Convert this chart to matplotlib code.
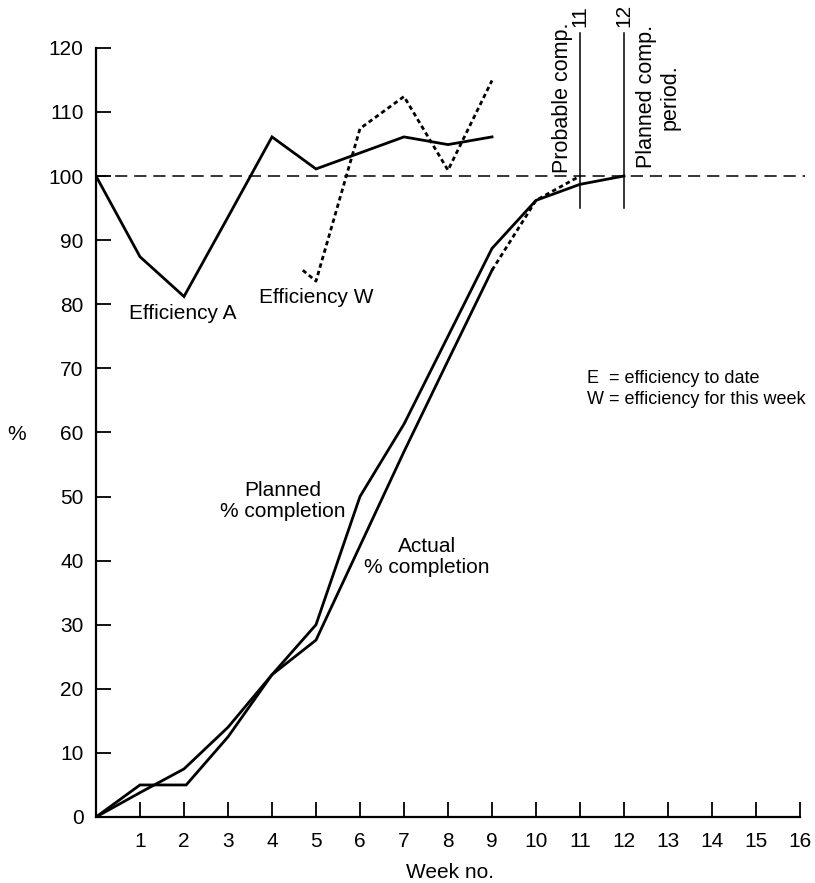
import matplotlib
matplotlib.use("Agg")
import matplotlib.pyplot as plt

plt.rcParams['font.family'] = ['Liberation Sans', 'DejaVu Sans']
plt.rcParams['font.size'] = 15

# Data
weeks_plan = [0, 1, 2, 3, 4, 5, 6, 7, 8, 9, 10, 11, 12]
planned = [0, 3.8, 7.5, 14, 22.2, 30, 50, 61.3, 75, 88.7, 96.2, 98.7, 100]

weeks_act = [0, 1, 2.05, 3, 4, 5, 6, 7, 8, 9]
actual = [0, 5, 5, 12.5, 22.2, 27.6, 42.3, 57, 71.2, 85.3]

weeks_fore = [9, 10, 11]
forecast = [85.3, 96.2, 100]

weeks_effA = [0, 1, 2, 3, 4, 5, 6, 7, 8, 9]
eff_A = [100, 87.4, 81.2, 93.6, 106.1, 101.1, 103.6, 106.1, 104.9, 106.1]

weeks_effW = [4.7, 5, 6, 7, 8, 9]
eff_W = [85.3, 83.6, 107.4, 112.4, 100.9, 114.9]

yticks = [0, 10, 20, 30, 40, 50, 60, 70, 80, 90, 100, 110, 120]
xticks = list(range(1, 17))

W, H = 815, 883
fig = plt.figure(figsize=(W / 100, H / 100), dpi=100)
ax = fig.add_axes([96 / W, 66 / H, (805 - 96) / W, (883 - 66) / H])
ax.set_xlim(0, (805 - 96) / 44)
ax.set_ylim(0, 817 / 6.41)

for s in ['top', 'right']:
    ax.spines[s].set_visible(False)
ax.spines['left'].set_bounds(0, 120)
ax.spines['bottom'].set_bounds(0, 16)
for s in ['left', 'bottom']:
    ax.spines[s].set_linewidth(1.6)

ax.set_yticks(yticks)
ax.set_xticks(xticks)
ax.tick_params(axis='both', direction='in', length=11, width=1.3, colors='black')
ax.tick_params(axis='y', pad=9)
ax.tick_params(axis='x', pad=11)

lw = 2.0
ax.axhline(100, color='black', lw=1.1, ls=(0, (8, 4.5)), clip_on=False)
ax.plot(weeks_plan, planned, color='black', lw=lw, solid_joinstyle='miter')
ax.plot(weeks_act, actual, color='black', lw=lw, solid_joinstyle='miter')
ax.plot(weeks_fore, forecast, color='black', lw=lw, ls=(0, (1.6, 1.2)))
ax.plot(weeks_effA, eff_A, color='black', lw=lw, solid_joinstyle='miter')
ax.plot(weeks_effW, eff_W, color='black', lw=lw, ls=(0, (1.6, 1.2)))

# vertical markers
for wk in [11, 12]:
    ax.plot([wk, wk], [95, 122.3], color='black', lw=1.1, clip_on=False)
    ax.text(wk, 123.2, str(wk), rotation=90, ha='center', va='bottom')

ax.text(10.6, 100.5, 'Probable comp.', rotation=90, ha='center', va='bottom',
        fontsize=15.5)
ax.text(12.78, 101.2, 'Planned comp.\nperiod.', rotation=90, ha='center',
        va='bottom', multialignment='center', linespacing=1.15, fontsize=15.5)

ax.text(1.98, 78.6, 'Efficiency A', ha='center', va='center')
ax.text(5.0, 81.1, 'Efficiency W', ha='center', va='center')
ax.text(4.25, 49.3, 'Planned\n% completion', ha='center', va='center',
        multialignment='center', linespacing=1.15)
ax.text(7.52, 40.6, 'Actual\n% completion', ha='center', va='center',
        multialignment='center', linespacing=1.15)
ax.text(11.15, 66.8, 'E  = efficiency to date\nW = efficiency for this week',
        ha='left', va='center', linespacing=1.35, fontsize=13.0)

ax.set_xlabel('Week no.', labelpad=8.5)
fig.text(17 / W, 1 - 434 / H, '%', ha='center', va='center')

fig.savefig('out.png', dpi=100)
